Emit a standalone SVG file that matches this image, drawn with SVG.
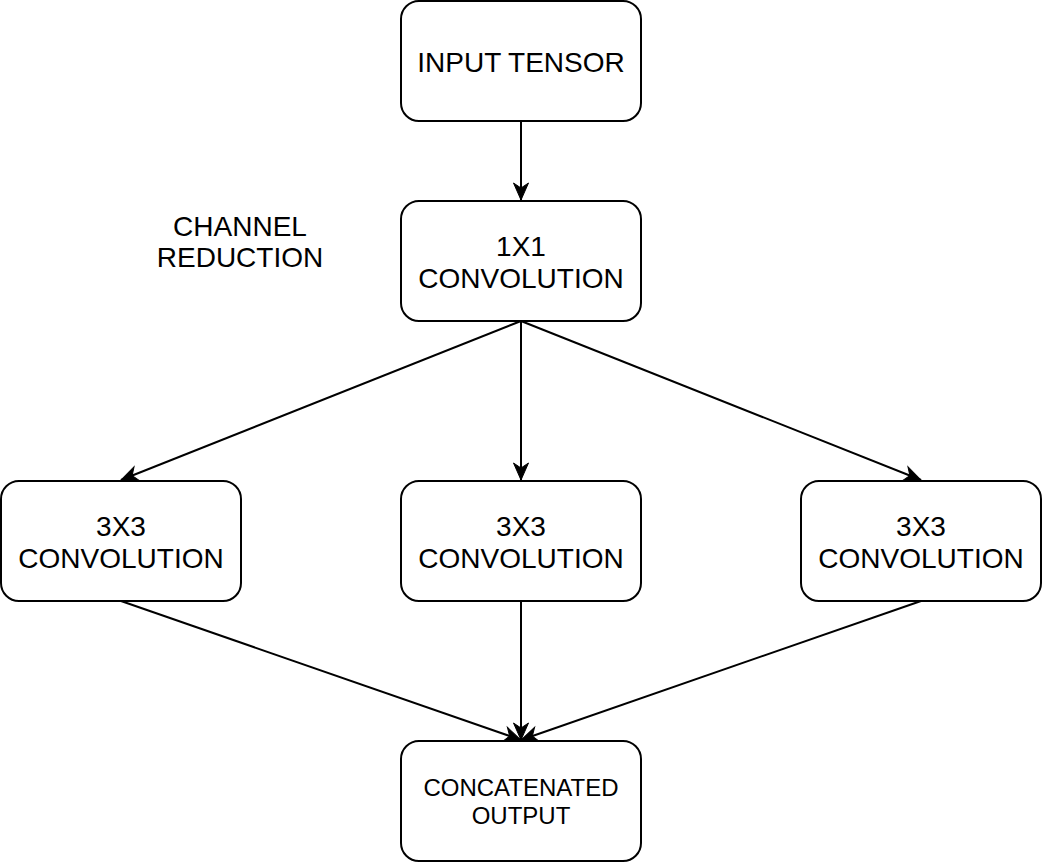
<svg xmlns="http://www.w3.org/2000/svg" width="1042" height="862" viewBox="0 0 1042 862">
<style>
.box{fill:#ffffff;stroke:#000000;stroke-width:2}
.t{font-family:"Liberation Sans",Arial,sans-serif;font-size:28px;fill:#000000;text-anchor:middle}
.s{font-family:"Liberation Sans",Arial,sans-serif;font-size:24px;fill:#000000;text-anchor:middle}
.edge{fill:none;stroke:#000000;stroke-width:2;marker-end:url(#arr)}
</style>
<defs>
<marker id="arr" markerUnits="userSpaceOnUse" viewBox="-18 -9 20 18" refX="0" refY="0" markerWidth="20" markerHeight="18" orient="auto" overflow="visible">
<path d="M0,0 L-17,-7.5 L-12,0 L-17,7.5 Z" fill="#000000" stroke="#000000" stroke-width="1"/>
</marker>
</defs>
<rect width="1042" height="862" fill="#ffffff"/>
<g id="connectors">
<path class="edge" d="M521,121 L521,200"/>
<path class="edge" d="M521,321 L121,480"/>
<path class="edge" d="M521,321 L521,480"/>
<path class="edge" d="M521,321 L921,480"/>
<path class="edge" d="M121,601 L521,740"/>
<path class="edge" d="M521,601 L521,740"/>
<path class="edge" d="M921,601 L521,740"/>
</g>
<g id="input-tensor">
<rect class="box" x="401" y="1" width="240" height="120" rx="18" ry="18"/>
<text class="t" x="521" y="72">INPUT TENSOR</text>
</g>
<g id="label-channel-reduction">
<text class="t" x="240" y="236">CHANNEL</text>
<text class="t" x="240" y="267">REDUCTION</text>
</g>
<g id="conv1x1">
<rect class="box" x="401" y="201" width="240" height="120" rx="18" ry="18"/>
<text class="t" x="521" y="256">1X1</text>
<text class="t" x="521" y="288">CONVOLUTION</text>
</g>
<g id="conv3x3-left">
<rect class="box" x="1" y="481" width="240" height="120" rx="18" ry="18"/>
<text class="t" x="121" y="536">3X3</text>
<text class="t" x="121" y="568">CONVOLUTION</text>
</g>
<g id="conv3x3-middle">
<rect class="box" x="401" y="481" width="240" height="120" rx="18" ry="18"/>
<text class="t" x="521" y="536">3X3</text>
<text class="t" x="521" y="568">CONVOLUTION</text>
</g>
<g id="conv3x3-right">
<rect class="box" x="801" y="481" width="240" height="120" rx="18" ry="18"/>
<text class="t" x="921" y="536">3X3</text>
<text class="t" x="921" y="568">CONVOLUTION</text>
</g>
<g id="concatenated-output">
<rect class="box" x="401" y="741" width="240" height="120" rx="18" ry="18"/>
<text class="s" x="521" y="796">CONCATENATED</text>
<text class="s" x="521" y="823.5">OUTPUT</text>
</g>
</svg>
